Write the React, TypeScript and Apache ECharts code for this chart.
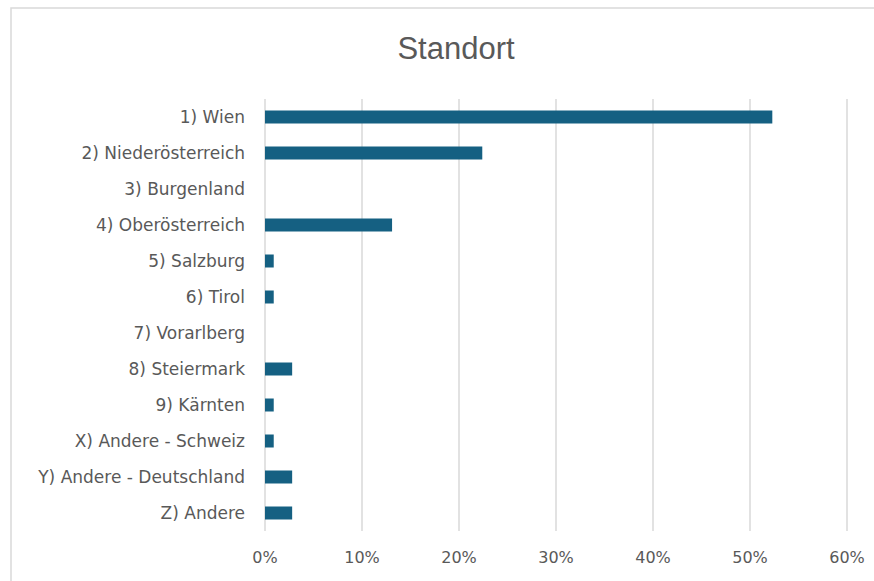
import React, { useEffect, useRef } from "react";
import * as echarts from "echarts";

const categories = [
  "1) Wien",
  "2) Niederösterreich",
  "3) Burgenland",
  "4) Oberösterreich",
  "5) Salzburg",
  "6) Tirol",
  "7) Vorarlberg",
  "8) Steiermark",
  "9) Kärnten",
  "X) Andere - Schweiz",
  "Y) Andere - Deutschland",
  "Z) Andere",
];
const values = [52.3, 22.4, 0, 13.1, 0.9, 0.9, 0, 2.8, 0.9, 0.9, 2.8, 2.8];
const title = "Standort";

export default function App() {
  const ref = useRef<HTMLDivElement>(null);
  useEffect(() => {
    const chart = echarts.init(ref.current!, null, { renderer: "svg" });
    chart.setOption({
      animation: false,
      graphic: [
        {
          type: "rect",
          shape: { x: 11, y: 8, width: 900, height: 600 },
          style: { fill: "none", stroke: "#d9d9d9", lineWidth: 1.5 },
          silent: true,
        },
      ],
      title: {
        text: title,
        left: 451,
        textAlign: "center",
        top: 28,
        textStyle: {
          fontFamily: "Liberation Sans, Arial, sans-serif",
          fontSize: 31,
          fontWeight: "normal",
          color: "#595959",
        },
      },
      grid: { left: 265, right: 874 - 847, top: 99, bottom: 581 - 531, containLabel: false },
      xAxis: {
        type: "value",
        min: 0,
        max: 60,
        interval: 10,
        axisLine: { show: false },
        axisTick: { show: false },
        splitLine: { lineStyle: { color: "#d9d9d9", width: 1.5 } },
        axisLabel: {
          formatter: "{value}%",
          color: "#595959",
          fontSize: 16,
          margin: 18,
          fontFamily: "DejaVu Sans, sans-serif",
        },
      },
      yAxis: {
        type: "category",
        data: categories,
        inverse: true,
        axisLine: { show: false },
        axisTick: { show: false },
        axisLabel: {
          color: "#595959",
          fontSize: 17,
          margin: 20,
          fontFamily: "DejaVu Sans, sans-serif",
        },
      },
      series: [
        {
          type: "bar",
          data: values,
          barWidth: 13,
          itemStyle: { color: "#156082" },
        },
      ],
    });
    return () => chart.dispose();
  }, []);
  return (
    <div
      ref={ref}
      style={{ position: "absolute", left: 0, top: 0, width: 874, height: 581, background: "#fff" }}
    />
  );
}
